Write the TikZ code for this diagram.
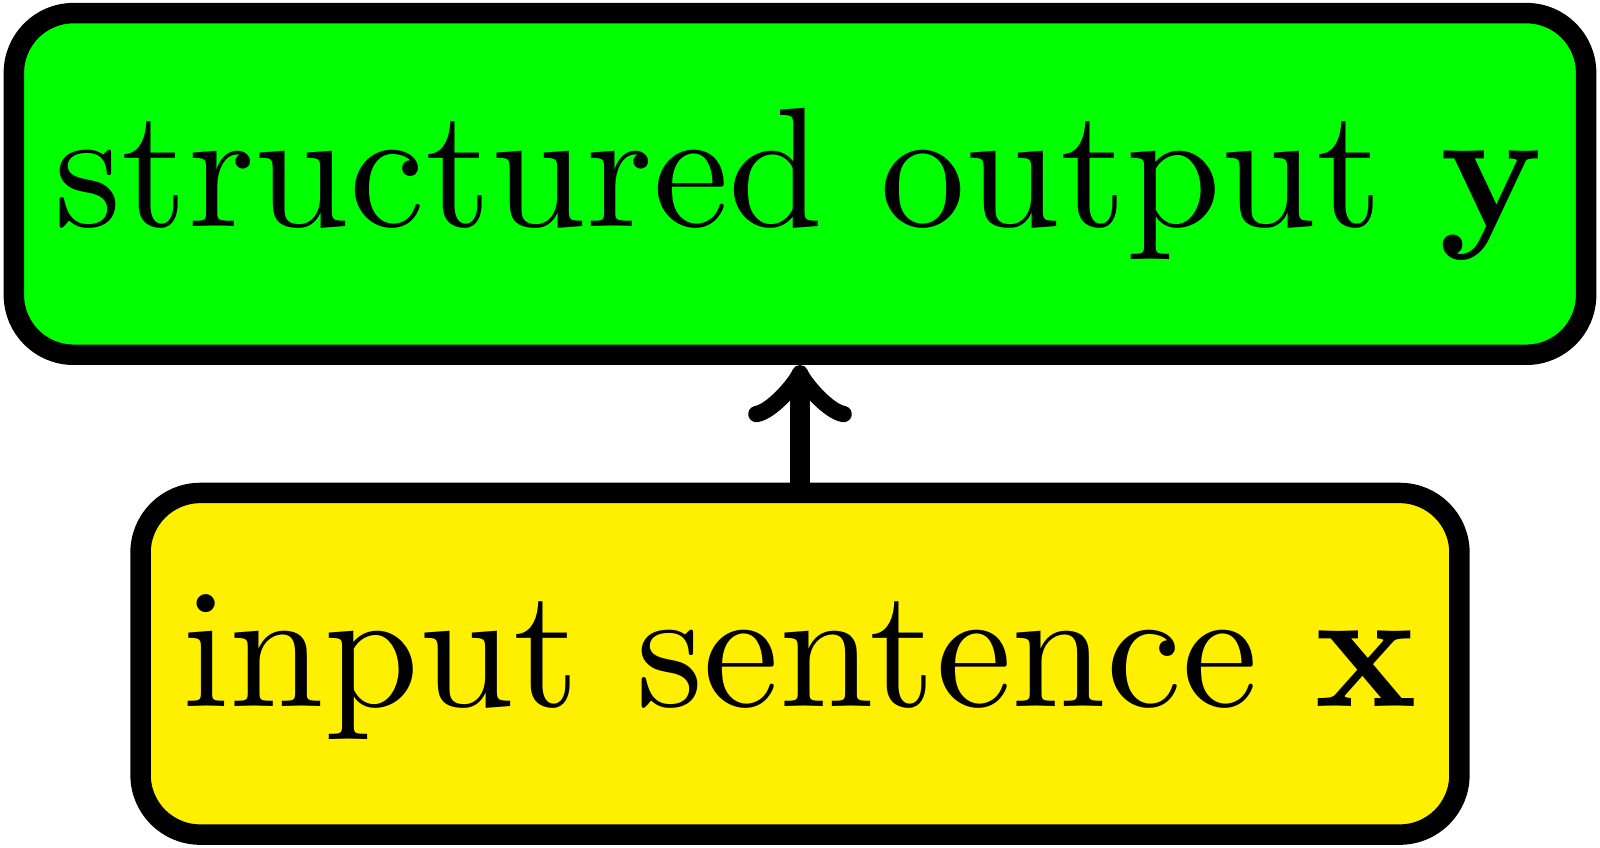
\documentclass[tikz,border=0pt]{standalone}
\begin{document}
\begin{tikzpicture}[
  box/.style={draw=black, line width=1.2pt, rounded corners=3.5pt, inner xsep=2.4pt, minimum height=20.05pt, text height=6.94pt, text depth=1.94pt},
  conn/.style={->, line width=1.2pt}
]
\definecolor{boxgreen}{RGB}{0,255,0}
\definecolor{boxyellow}{RGB}{255,240,0}
\useasboundingbox (0,0) rectangle (93.9pt,49.76pt);
\node[box, fill=boxgreen, minimum width=92.1pt] (out) at (46.95pt,38.96pt) {structured output $\mathbf{y}$};
\node[box, fill=boxyellow, minimum width=77.4pt] (in) at (46.95pt,10.8pt) {input sentence $\mathbf{x}$};
\draw[conn] (in.north) -- (out.south);
\end{tikzpicture}
\end{document}
